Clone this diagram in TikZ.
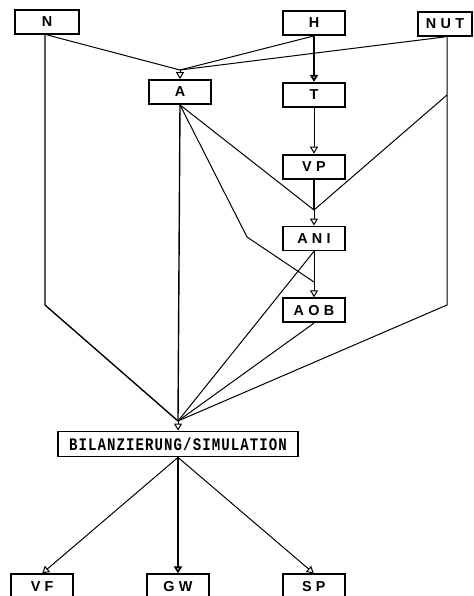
\documentclass[tikz,border=0pt]{standalone}
\usepackage{fontspec}
\newfontfamily\boxfont[LetterSpace=30]{Liberation Sans}
\newfontfamily\typefont[FakeStretch=0.8, LetterSpace=6]{Liberation Mono}
\usetikzlibrary{arrows.meta, positioning}
\tikzset{
  every picture/.style={line width=0.5pt},
  box/.style={draw, line width=0.9pt, minimum width=31pt, minimum height=12pt, inner sep=1pt, font=\boxfont\bfseries\fontsize{7.2}{8}\selectfont},
  wide/.style={box, minimum width=120pt, minimum height=12.5pt, font=\typefont\bfseries\fontsize{8.8}{10}\selectfont},
  link/.style={draw, line width=0.5pt},
  arrow/.style={-{Triangle[open, length=3.5pt, width=4pt]}, line width=0.5pt},
  heavy/.style={line width=0.9pt},
}

\begin{document}
\begin{tikzpicture}[x=0.5pt, y=-0.5pt, node distance=23pt]
  \useasboundingbox (0,0) rectangle (474,596);
  % inputs
  \node[box, minimum width=32pt] (n) at (47,22) {N};
  \node[box] (h) at (314,23) {H};
  \node[box, minimum width=27pt] (nut) at (445,24) {NUT};
  \node[box] (a) at (180,92) {A};
  % chain
  \node[box, below=of h] (t) {T};
  \node[box, below=of t] (vp) {VP};
  \node[box, below=of vp] (ani) {ANI};
  \node[box, below=of ani] (aob) {AOB};
  % outputs
  \node[wide] (bil) at (178,444) {BILANZIERUNG/SIMULATION};
  \node[box, below=58pt of bil] (gw) {GW};
  \node[box, left=36pt of gw] (vf) {VF};
  \node[box, right=36pt of gw] (sp) {SP};

  \coordinate (ain) at (180,70);
  \coordinate (aniin) at (314,210);
  \coordinate (aobin) at (314,282);
  \coordinate (bilin) at (178,421);
  \coordinate (nbend) at (45,305);
  \coordinate (nutfork) at (447,95);
  \coordinate (nutbend) at (447,305);
  \coordinate (abend) at (247,237);

  \draw[link] (n.south) -- (ain);
  \draw[link] (h.south) -- (ain);
  \draw[link] (nut.south) -- (ain);
  \draw[arrow] (ain) -- (a.north);
  \draw[arrow, heavy] (h) -- (t);
  \draw[arrow] (t) -- (vp);
  \draw[link, heavy] (vp.south) -- (aniin);
  \draw[link] (a.south) -- (aniin);
  \draw[link] (nutfork) -- (aniin);
  \draw[arrow] (aniin) -- (ani.north);
  \draw[link] (ani.south) -- (aobin);
  \draw[link] (a.south) -- (abend) -- (aobin);
  \draw[arrow] (aobin) -- (aob.north);

  \draw[link, line width=0.7pt] (n.south -| nbend) -- (nbend) -- (bilin);
  \draw[link] (nut.south -| nutfork) -- (nutfork) -- (nutbend) -- (bilin);
  \draw[link, line width=0.7pt] (a.south) -- (bilin);
  \draw[link] (ani.south) -- (bilin);
  \draw[link] (aob.south) -- (bilin);
  \draw[arrow] (bilin) -- (bil.north);

  \draw[arrow] (bil.south) -- (vf.north);
  \draw[arrow, heavy] (bil.south) -- (gw.north);
  \draw[arrow] (bil.south) -- (sp.north);
\end{tikzpicture}
\end{document}
